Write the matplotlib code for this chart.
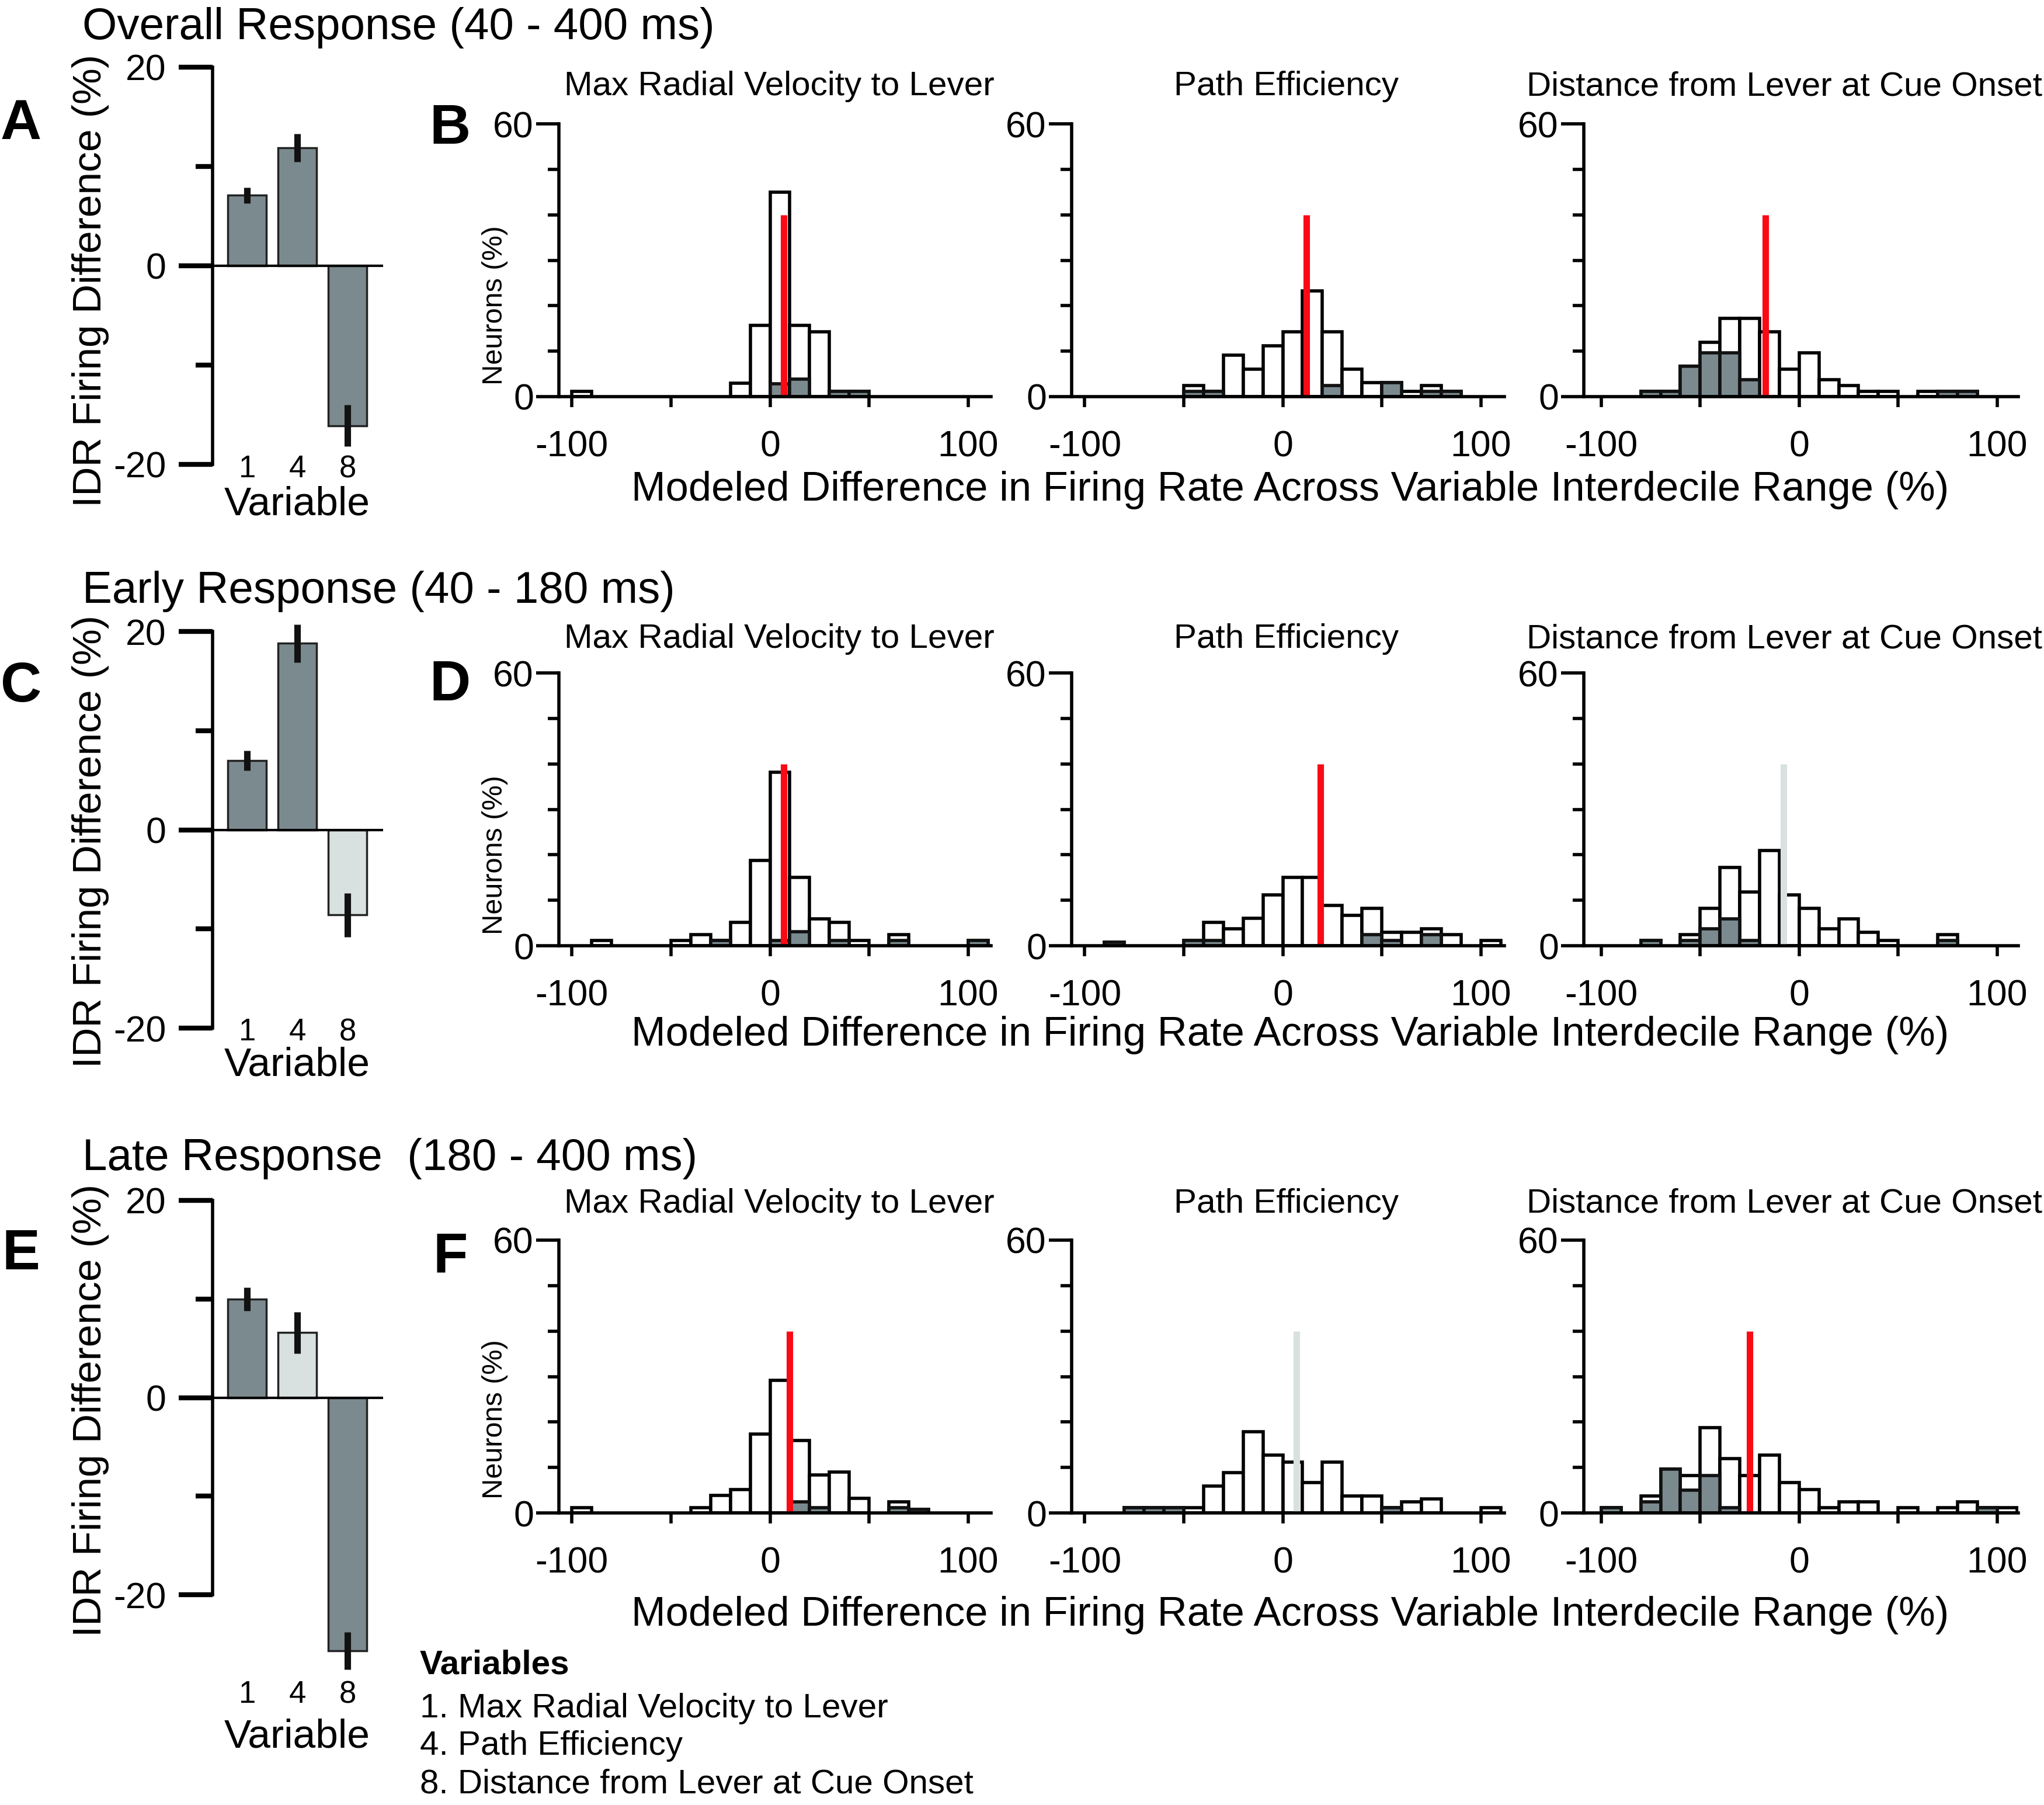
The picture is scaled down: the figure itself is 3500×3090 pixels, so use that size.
import matplotlib.pyplot as plt
import matplotlib.transforms as mtransforms

W, H = 3500, 3090
DPI = 100

plt.rcParams['font.family'] = ['Liberation Sans', 'DejaVu Sans']

# ---------------- data ----------------
# histogram bins (left edges, 10 % wide)
bin_left = [-100, -90, -80, -70, -60, -50, -40, -30, -20, -10, 0,
            10, 20, 30, 40, 50, 60, 70, 80, 90, 100]

# % of neurons, all neurons / significant neurons
overall_vel_all = [1.2, 0, 0, 0, 0, 0, 0, 0, 3.0, 15.7, 45.0, 15.7, 14.3, 1.2, 1.2, 0, 0, 0, 0, 0, 0]
overall_vel_sig = [0, 0, 0, 0, 0, 0, 0, 0, 0, 0, 2.8, 3.8, 0, 1.2, 1.2, 0, 0, 0, 0, 0, 0]
overall_path_all = [0, 0, 0, 0, 0, 2.4, 1.2, 9.1, 6.1, 11.2, 14.2, 23.3, 14.2, 6.1, 3.1, 3.1, 1.2, 2.4, 1.2, 0, 0]
overall_path_sig = [0, 0, 0, 0, 0, 1.2, 1.2, 0, 0, 0, 0, 0, 2.4, 0, 0, 3.1, 0, 1.2, 1.2, 0, 0]
overall_dist_all = [0, 0, 1.2, 1.2, 6.7, 12.0, 17.2, 17.2, 14.2, 6.1, 9.7, 3.7, 2.4, 1.2, 1.2, 0, 1.2, 1.2, 1.2, 0, 0]
overall_dist_sig = [0, 0, 1.2, 1.2, 6.7, 9.7, 9.7, 3.7, 0, 0, 0, 0, 0, 0, 0, 0, 0, 1.2, 1.2, 0, 0]

early_vel_all = [0, 1.2, 0, 0, 0, 1.2, 2.4, 1.2, 5.2, 18.7, 38.1, 15.0, 5.9, 5.2, 1.2, 0, 2.4, 0, 0, 0, 1.2]
early_vel_sig = [0, 0, 0, 0, 0, 0, 0, 1.2, 0, 0, 1.2, 3.1, 0, 1.2, 0, 0, 1.2, 0, 0, 0, 1.2]
early_path_all = [0, 0.8, 0, 0, 0, 1.2, 5.2, 3.7, 6.1, 11.2, 15.0, 15.0, 8.9, 6.7, 8.2, 2.9, 2.9, 3.7, 2.4, 0, 1.2]
early_path_sig = [0, 0.8, 0, 0, 0, 1.2, 1.2, 0, 0, 0, 0, 0, 0, 0, 2.4, 1.2, 0, 2.4, 0, 0, 0]
early_dist_all = [0, 0, 1.2, 0, 2.4, 8.2, 17.2, 11.8, 21.0, 11.2, 8.2, 3.7, 5.9, 2.9, 1.2, 0, 0, 2.4, 0, 0, 0]
early_dist_sig = [0, 0, 1.2, 0, 1.2, 3.7, 5.9, 1.2, 0, 0, 0, 0, 0, 0, 0, 0, 0, 1.2, 0, 0, 0]

late_vel_all = [1.2, 0, 0, 0, 0, 0, 1.2, 3.9, 5.2, 17.4, 29.2, 15.9, 8.4, 9.0, 3.2, 0, 2.4, 0.8, 0, 0, 0]
late_vel_sig = [0, 0, 0, 0, 0, 0, 0, 0, 0, 0, 0, 2.4, 1.2, 0, 0, 0, 1.2, 0.8, 0, 0, 0]
late_path_all = [0, 0, 1.2, 1.2, 1.2, 1.2, 5.9, 8.9, 17.9, 12.7, 11.2, 6.7, 11.2, 3.7, 3.7, 1.2, 2.4, 3.1, 0, 0, 1.2]
late_path_sig = [0, 0, 1.2, 1.2, 1.2, 0, 0, 0, 0, 0, 0, 0, 0, 0, 0, 1.2, 0, 0, 0, 0, 0]
late_dist_all = [1.2, 0, 3.7, 9.7, 8.2, 18.7, 12.0, 8.2, 12.7, 6.7, 5.2, 1.2, 2.4, 2.4, 0, 1.2, 0, 1.2, 2.4, 1.2, 1.2]
late_dist_sig = [1.2, 0, 2.4, 9.7, 5.0, 8.2, 1.2, 0, 0, 0, 0, 0, 0, 0, 0, 0, 0, 0, 0, 1.2, 0]

# population medians and whether they are significant
overall_median = [7, 12, -17]
early_median = [7, 19, -8]
late_median = [10, 7, -25]
overall_median_sig = [True, True, True]
early_median_sig = [True, True, False]
late_median_sig = [True, False, True]

# IDR firing difference bar charts
variables = ['1', '4', '8']
overall_idr = [7.1, 11.9, -16.1]
overall_idr_err = [0.8, 1.4, 2.1]
overall_idr_sig = [True, True, True]
early_idr = [7.0, 18.8, -8.6]
early_idr_err = [1.0, 1.9, 2.2]
early_idr_sig = [True, True, False]
late_idr = [10.0, 6.6, -25.7]
late_idr_err = [1.2, 2.1, 1.9]
late_idr_sig = [True, False, True]

hist_titles = ['Max Radial Velocity to Lever', 'Path Efficiency', 'Distance from Lever at Cue Onset']
row_titles = ['Overall Response (40 - 400 ms)', 'Early Response (40 - 180 ms)', 'Late Response  (180 - 400 ms)']
bar_letters = ['A', 'C', 'E']
hist_letters = ['B', 'D', 'F']
xlab = 'Modeled Difference in Firing Rate Across Variable Interdecile Range (%)'

DARK = '#7b8a8f'
LIGHT = '#d9e0e0'
RED = '#fa0a14'

fig = plt.figure(figsize=(W / DPI, H / DPI), dpi=DPI)


def box(left, top, right, bottom):
    return [left / W, 1 - bottom / H, (right - left) / W, (bottom - top) / H]


def fxy(x, y):
    return x / W, 1 - y / H


hist_all = [[overall_vel_all, overall_path_all, overall_dist_all],
            [early_vel_all, early_path_all, early_dist_all],
            [late_vel_all, late_path_all, late_dist_all]]
hist_sig = [[overall_vel_sig, overall_path_sig, overall_dist_sig],
            [early_vel_sig, early_path_sig, early_dist_sig],
            [late_vel_sig, late_path_sig, late_dist_sig]]
medians = [overall_median, early_median, late_median]
medians_sig = [overall_median_sig, early_median_sig, late_median_sig]
idr = [overall_idr, early_idr, late_idr]
idr_err = [overall_idr_err, early_idr_err, late_idr_err]
idr_sig = [overall_idr_sig, early_idr_sig, late_idr_sig]

# layout in pixels
row_y60 = [212, 1152, 2123]
row_y0 = [679, 1619, 2590]
col_left = [957, 1835, 2712]
col_right = [1697, 2576, 3456]
col_xlim = [(-106.5, 111.5), (-106.6, 111.9), (-108.8, 110.7)]
title_x = [1334, 2203, 3056]
title_base = [163, 1109, 2076]
xlab_base = [857, 1790, 2783]
neur_y = [523, 1464, 2430]
row_title_base = [67, 1032, 2003]
letter_base = [[238, 246], [1201, 1199], [2173, 2177]]

bar_y20 = [115, 1081, 2055]
bar_ym20 = [795, 1760, 2730]
bar_ylo = [-21, -21, -28]
bar_num_base = [817, 1781, 2915]
bar_var_base = [882, 1841, 2991]
idr_y = [480, 1440, 2415]

LW = 4

for r in range(3):
    # ---- row title and letters
    x, y = fxy(141, row_title_base[r])
    fig.text(x, y, row_titles[r], fontsize=55, va='baseline', ha='left')
    x, y = fxy(36, letter_base[r][0])
    fig.text(x, y, bar_letters[r], fontsize=70, fontweight='bold', ha='center', va='baseline')
    x, y = fxy(771, letter_base[r][1])
    fig.text(x, y, hist_letters[r], fontsize=70, fontweight='bold', ha='center', va='baseline')

    # ---- bar chart
    scale = (bar_ym20[r] - bar_y20[r]) / 40
    top = bar_y20[r] - (21 - 20) * scale
    bottom = bar_ym20[r] + (-20 - bar_ylo[r]) * scale
    ax = fig.add_axes(box(364, top, 656, bottom))
    pos = [0, 1, 2]
    cols = [DARK if s else LIGHT for s in idr_sig[r]]
    ax.bar(pos, idr[r], width=0.77, color=cols, edgecolor='#222222', linewidth=2.5, zorder=2)
    ax.errorbar(pos, idr[r], yerr=idr_err[r], fmt='none', ecolor='#111111',
                elinewidth=8, capsize=0, zorder=3)
    ax.axhline(0, color='black', linewidth=3, zorder=4)
    ax.set_xlim(-0.69, 2.71)
    ax.set_ylim(bar_ylo[r], 21)
    for s in ['top', 'right', 'bottom']:
        ax.spines[s].set_visible(False)
    ax.spines['left'].set_linewidth(LW)
    ax.spines['left'].set_bounds(-20, 20)
    ax.set_xticks([])
    ax.set_yticks([-20, 0, 20])
    ax.set_yticklabels(['-20', '0', '20'])
    ax.set_yticks([-10, 10], minor=True)
    ax.tick_params(axis='y', which='major', length=42, width=6, pad=15, labelsize=45)
    ax.tick_params(axis='y', which='minor', length=21, width=6)
    trans = mtransforms.blended_transform_factory(ax.transData, fig.transFigure)
    for p, lab in zip(pos, variables):
        ax.text(p, 1 - bar_num_base[r] / H, lab, transform=trans, ha='center',
                va='baseline', fontsize=38, clip_on=False)
    x, y = fxy(509, bar_var_base[r])
    fig.text(x, y, 'Variable', fontsize=50, ha='center', va='baseline')
    x, y = fxy(155, idr_y[r])
    fig.text(x, y, 'IDR Firing Difference (%)', fontsize=50, rotation=90,
             ha='center', va='center')

    # ---- histograms
    for c in range(3):
        ax = fig.add_axes(box(col_left[c], row_y60[r], col_right[c], row_y0[r]))
        a = hist_all[r][c]
        s = hist_sig[r][c]
        xa = [b for b, v in zip(bin_left, a) if v > 0]
        va = [v for v in a if v > 0]
        xs = [b for b, v in zip(bin_left, s) if v > 0]
        vs = [v for v in s if v > 0]
        ax.bar(xa, va, width=10, align='edge', facecolor='white', edgecolor='black',
               linewidth=4, zorder=2)
        ax.bar(xs, vs, width=10, align='edge', facecolor=DARK, edgecolor='#111111',
               linewidth=4, zorder=3)
        mcol = RED if medians_sig[r][c] else LIGHT
        ax.vlines(medians[r][c], 0, 40, color=mcol, linewidth=8, zorder=4)
        ax.set_xlim(*col_xlim[c])
        ax.set_ylim(0, 60)
        for sp in ['top', 'right']:
            ax.spines[sp].set_visible(False)
        ax.spines['left'].set_linewidth(LW)
        ax.spines['bottom'].set_linewidth(LW)
        ax.spines['bottom'].set_zorder(5)
        ax.set_yticks([0, 60])
        ax.set_yticklabels(['0', '60'])
        ax.set_yticks([10, 20, 30, 40, 50], minor=True)
        ax.set_xticks([-100, 0, 100])
        ax.set_xticklabels(['-100', '0', '100'])
        ax.set_xticks([-50, 50], minor=True)
        ax.tick_params(axis='y', which='major', length=28, width=LW, pad=3, labelsize=45)
        ax.tick_params(axis='y', which='minor', length=14, width=LW)
        ax.tick_params(axis='x', which='both', length=13, width=LW, pad=28, labelsize=45)
        x, y = fxy(title_x[c], title_base[r])
        fig.text(x, y, hist_titles[c], fontsize=42, ha='center', va='baseline')

    x, y = fxy(848, neur_y[r])
    fig.text(x, y, 'Neurons (%)', fontsize=35, rotation=90, ha='center', va='center')
    x, y = fxy(2209, xlab_base[r])
    fig.text(x, y, xlab, fontsize=50.8, ha='center', va='baseline')

# legend text
legend_lines = ['1. Max Radial Velocity to Lever', '4. Path Efficiency',
                '8. Distance from Lever at Cue Onset']
x, y = fxy(719, 2866)
fig.text(x, y, 'Variables', fontsize=42, fontweight='bold', ha='left', va='baseline')
for yy, line in zip([2940, 3004, 3069], legend_lines):
    x, y = fxy(719, yy)
    fig.text(x, y, line, fontsize=42, ha='left', va='baseline')

fig.savefig('out.png', dpi=DPI)
